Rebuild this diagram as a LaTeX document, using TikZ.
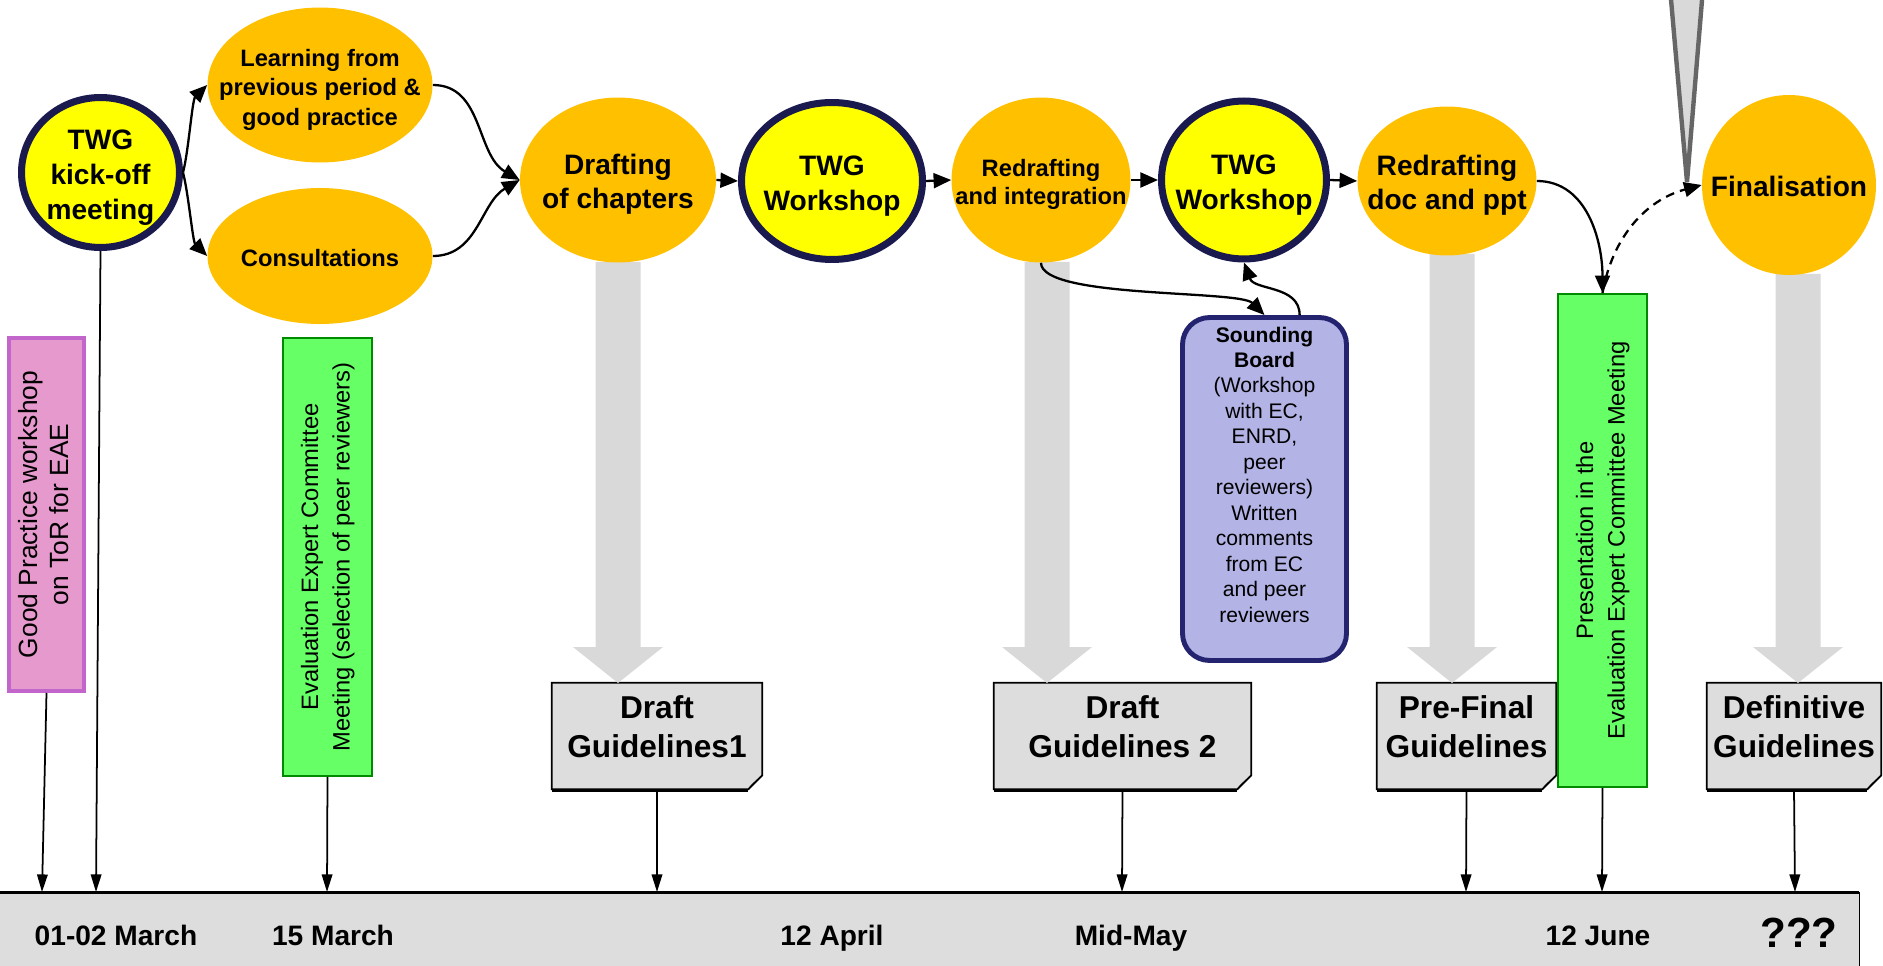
\documentclass[tikz,border=0pt]{standalone}
\usepackage{fontspec}
\usepackage{graphicx}
\setmainfont{Liberation Sans}
\usetikzlibrary{shapes.geometric, arrows.meta, calc, backgrounds}

\definecolor{phaseorange}{HTML}{FFC000}
\definecolor{twgyellow}{HTML}{FFFF00}
\definecolor{twgnavy}{HTML}{1A1A4E}
\definecolor{shaftgray}{HTML}{D9D9D9}
\definecolor{docgray}{HTML}{DDDDDD}
\definecolor{stalkgray}{HTML}{666666}
\definecolor{pinkfill}{HTML}{E699CC}
\definecolor{pinkline}{HTML}{C266CC}
\definecolor{eecgreen}{HTML}{66FF66}
\definecolor{eecline}{HTML}{008A00}
\definecolor{sbfill}{HTML}{B3B3E6}
\definecolor{sbline}{HTML}{232370}

% centred lines, moved down (or up) without changing the node size
\newcommand\mlines[2][-2.8pt]{\raisebox{#1}[\height][\depth]{\makebox[0pt]{\begin{tabular}{@{}c@{}}#2\end{tabular}}}}

\begin{document}
\begin{tikzpicture}[x=0.02cm, y=0.02cm, >={Triangle[length=10pt,width=8.5pt]},
        phase/.style={ellipse, fill=phaseorange, inner sep=0pt},
        twg/.style={ellipse, fill=twgyellow, draw=twgnavy, line width=4pt, inner sep=0pt,
            font=\bfseries\fontsize{16}{20}\selectfont},
        tall/.style={rectangle, inner sep=0pt, font=\fontsize{13.5}{18}\selectfont},
        doc/.style={rectangle, inner sep=0pt, minimum height=2.12cm,
            font=\bfseries\fontsize{18}{21.8}\selectfont},
        date/.style={anchor=base, font=\bfseries\fontsize{16}{19}\selectfont},
        flow/.style={->, line width=1.3pt},
        tick/.style={-{Triangle[length=10pt,width=6pt]}, line width=1pt}]
        \useasboundingbox (0,0) rectangle (1883,-966);

        % grey block arrows and the stalk from above
        \foreach \x/\yy in {618/262, 1047/262, 1452/254, 1798/274}
            \fill[shaftgray] (\x-22.5,-\yy) -- (\x+22.5,-\yy) -- (\x+22.5,-647) -- (\x+45,-647)
                -- (\x,-683) -- (\x-45,-647) -- (\x-22.5,-647) -- cycle;
        \filldraw[fill=shaftgray, draw=stalkgray, line width=2.5pt] (1670,12) -- (1703,12) -- (1687,-182) -- cycle;

        % time line
        \fill[docgray] (0,-892) rectangle (1859,-966);
        \draw[line width=1.7pt] (0,-892) -- (1859,-892);
        \draw[line width=0.5pt] (1859,-892) -- (1859,-966);
        \foreach \n/\x in {tgp/42, tkick/96, teec/327, tdg1/657, tdg2/1122, tpfg/1466, tpres/1602, tdefg/1795}
            \coordinate (\n) at (\x,-892);

        % phases
        \node[twg, minimum width=3.16cm, minimum height=3.0cm] (kick) at (100.5,-172.5) {\mlines{TWG\\kick-off\\meeting}};
        \node[phase, minimum width=4.5cm, minimum height=3.1cm, font=\bfseries\fontsize{13.5}{17}\selectfont] (learn) at (320,-85)
            {\mlines{Learning from\\previous period \&\\good practice}};
        \node[phase, minimum width=4.5cm, minimum height=2.72cm, font=\bfseries\fontsize{13.5}{17}\selectfont] (consult) at (320,-256)
            {\mlines{Consultations}};
        \node[phase, minimum width=3.92cm, minimum height=3.3cm, font=\bfseries\fontsize{16}{19.5}\selectfont] (draft) at (618,-180)
            {\mlines{Drafting\\of chapters}};
        \node[twg, minimum width=3.62cm, minimum height=3.14cm] (ws1) at (832,-181) {\mlines{TWG\\Workshop}};
        \node[phase, minimum width=3.58cm, minimum height=3.3cm, font=\bfseries\fontsize{13.5}{16}\selectfont] (redraft) at (1041,-180)
            {\mlines{Redrafting\\and integration}};
        \node[twg, minimum width=3.3cm, minimum height=3.16cm] (ws2) at (1244,-180) {\mlines{TWG\\Workshop}};
        \node[phase, minimum width=3.58cm, minimum height=2.98cm, font=\bfseries\fontsize{16}{19.5}\selectfont] (redoc) at (1447,-181)
            {\mlines{Redrafting\\doc and ppt}};
        \node[phase, minimum width=3.48cm, minimum height=3.6cm, font=\bfseries\fontsize{16}{19}\selectfont] (final) at (1789,-185)
            {\mlines{Finalisation}};

        % meetings and sounding board
        \node[tall, fill=pinkfill, draw=pinkline, line width=2.3pt, minimum width=1.5cm, minimum height=7.06cm,
            font=\fontsize{15}{18}\selectfont] (gp) at (46.5,-514.5)
            {\rotatebox{90}{\begin{tabular}{@{}c@{}}Good Practice workshop\\on ToR for EAE\end{tabular}}};
        \node[tall, fill=eecgreen, draw=eecline, line width=1.1pt, minimum width=1.78cm, minimum height=8.76cm] (eec) at (327.5,-557)
            {\rotatebox{90}{\begin{tabular}{@{}c@{}}Evaluation Expert Committee\\Meeting (selection of peer reviewers)\end{tabular}}};
        \node[tall, fill=eecgreen, draw=eecline, line width=1.1pt, minimum width=1.78cm, minimum height=9.86cm] (pres) at (1602.5,-540.5)
            {\rotatebox{90}{\begin{tabular}{@{}c@{}}Presentation in the\\Evaluation Expert Committee Meeting\end{tabular}}};
        \node[rectangle, rounded corners=0.54cm, fill=sbfill, draw=sbline, line width=2.8pt, inner sep=0pt,
            minimum width=3.28cm, minimum height=6.86cm, font=\fontsize{12}{14.5}\selectfont] (sb) at (1264.5,-489)
            {\mlines[6.8pt]{\textbf{Sounding}\\\textbf{Board}\\(Workshop\\with EC,\\ENRD,\\peer\\reviewers)\\Written\\comments\\from EC\\and peer\\reviewers}};

        % guidelines
        \node[doc, minimum width=4.2cm] (dg1) at (657,-736) {\mlines[3.2pt]{Draft\\Guidelines1}};
        \node[doc, minimum width=5.14cm] (dg2) at (1122.5,-736) {\mlines[3.2pt]{Draft\\Guidelines 2}};
        \node[doc, minimum width=3.58cm] (pfg) at (1466.5,-736) {\mlines[3.2pt]{Pre-Final\\Guidelines}};
        \node[doc, minimum width=3.48cm] (defg) at (1794,-736) {\mlines[3.2pt]{Definitive\\Guidelines}};
        \begin{scope}[on background layer]
            \foreach \n in {dg1, dg2, pfg, defg} {
                \draw[line width=1.4pt] ([yshift=-1pt]\n.south west) -- ([xshift=-8pt,yshift=-1pt]\n.south east);
                \filldraw[fill=docgray, line width=1pt] (\n.north west) -- (\n.north east) -- ([yshift=8pt]\n.south east)
                    -- ([xshift=-8pt]\n.south east) -- (\n.south west) -- cycle;
                \draw[line width=0.6pt] ([yshift=8pt]\n.south east) -- ([xshift=-6pt,yshift=2.5pt]\n.south east)
                    -- ([xshift=-8pt]\n.south east);
            }
        \end{scope}

        % dates
        \node[date] (d1) at (116,-945) {01-02 March};
        \node[date] (d2) at (333,-945) {15 March};
        \node[date] (d3) at (832,-945) {12 April};
        \node[date] (d4) at (1131,-945) {Mid-May};
        \node[date] (d5) at (1598,-945) {12 June};
        \node[date, font=\bfseries\fontsize{24}{28}\selectfont] (d6) at (1799,-947) {???};

        \path[flow]
        (kick.east) edge [out=75, in=225, looseness=0.6] (learn.west)
                    edge [out=-75, in=135, looseness=0.6] (consult.west)
        (learn.east) edge [out=0, in=150] (draft.west)
        (consult.east) edge [out=0, in=210] (draft.west)
        (draft.east) edge (ws1.west)
        (ws1.east) edge (redraft.west)
        (redraft.east) edge (ws2.west)
        (ws2.east) edge (redoc.west)
        (redraft.south) edge [out=-90, in=135, looseness=0.4] (sb.north)
        ([xshift=20pt]sb.north) edge [out=90, in=-70] (ws2.south)
        (redoc.east) edge [out=0, in=90] (pres.north)
        (pres.north) edge [dashed, dash pattern=on 5pt off 3.5pt, out=80, in=195] (final.west)
        ;

        \path[tick]
        (gp.south) edge (tgp)
        (kick.south) edge (tkick)
        (eec.south) edge (teec)
        (dg1.south) edge (tdg1)
        (dg2.south) edge (tdg2)
        (pfg.south) edge (tpfg)
        (pres.south) edge (tpres)
        (defg.south) edge (tdefg)
        ;
\end{tikzpicture}
\end{document}
